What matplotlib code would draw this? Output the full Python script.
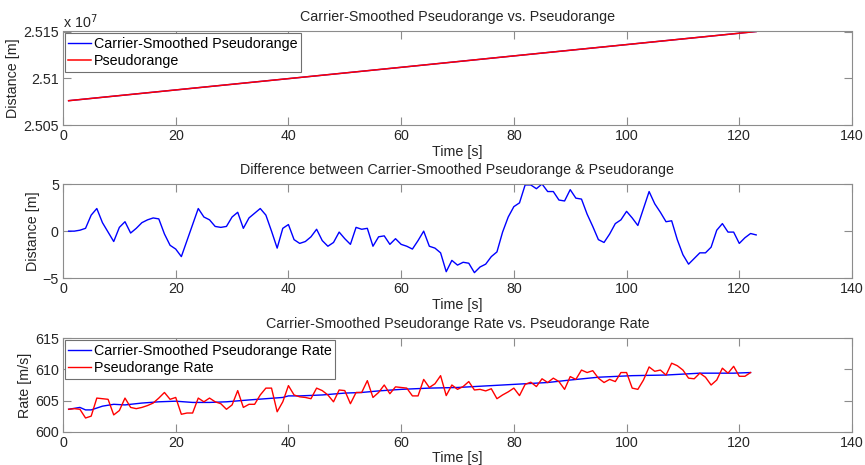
import numpy as np
import matplotlib
matplotlib.use("Agg")
import matplotlib.pyplot as plt
from matplotlib.ticker import FuncFormatter, MultipleLocator

# ---------------- data ----------------
# Top panel: pseudorange (read at a few times along the nearly straight line)
range_t = [1, 20, 40, 60, 80, 100, 123]
pseudorange = [25076000, 25087500, 25099600, 25111700, 25123900, 25136000, 25150000]
smoothed_range = [25076000, 25087500, 25099600, 25111700, 25123900, 25136000, 25150000]

# Middle panel: difference (carrier-smoothed - pseudorange), t = 1..123
diff_t = list(range(1, 124))
difference = [
    0.0, 0.0, 0.1, 0.3, 1.7, 2.4, 0.9, -0.1, -1.1, 0.4,
    1.0, -0.2, 0.3, 0.9, 1.2, 1.4, 1.3, -0.3, -1.5, -1.9,
    -2.7, -1.0, 0.7, 2.4, 1.5, 1.2, 0.5, 0.4, 0.5, 1.5,
    2.0, 0.3, 1.4, 1.9, 2.4, 1.7, 0.0, -1.8, 0.3, 0.7,
    -0.9, -1.3, -1.1, -0.6, 0.2, -1.0, -1.6, -1.2, -0.1, -0.8,
    -1.4, 0.4, 0.2, 0.3, -1.6, -0.6, -0.5, -1.4, -0.8, -1.4,
    -1.6, -1.9, -1.0, 0.0, -1.6, -1.8, -2.3, -4.3, -3.1, -3.6,
    -3.3, -3.4, -4.4, -3.8, -3.5, -2.7, -2.2, -0.1, 1.5, 2.6,
    3.0, 4.9, 4.9, 4.5, 5.0, 4.2, 4.2, 3.3, 3.2, 4.4,
    3.5, 3.4, 1.8, 0.5, -0.9, -1.2, -0.3, 0.8, 1.2, 2.1,
    1.4, 0.6, 2.4, 4.2, 2.9, 2.0, 1.0, 1.1, -0.9, -2.5,
    -3.5, -2.9, -2.3, -2.3, -1.7, 0.1, 0.8, -0.1, -0.1, -1.3,
    -0.7, -0.25, -0.4,
]

# Bottom panel: pseudorange rate, t = 1..122
rate_t = list(range(1, 123))
pseudorange_rate = [
    603.6, 603.7, 603.6, 602.2, 602.5, 605.4, 605.3, 605.2, 602.7, 603.4,
    605.4, 603.9, 603.7, 603.9, 604.2, 604.6, 605.4, 606.3, 605.2, 605.5,
    602.8, 603.0, 603.0, 605.4, 604.8, 605.4, 604.8, 604.5, 603.6, 604.3,
    606.6, 603.9, 604.4, 604.4, 605.9, 607.0, 607.0, 603.2, 604.8, 607.4,
    605.9, 605.6, 605.5, 605.3, 607.0, 606.6, 605.9, 604.8, 606.7, 606.6,
    604.5, 606.3, 606.3, 608.2, 605.5, 606.3, 607.5, 606.1, 607.2, 607.1,
    607.0, 605.75, 605.75, 608.4, 607.1, 607.7, 609.0, 605.8, 607.5, 606.8,
    607.25, 608.05, 606.7, 606.8, 606.55, 606.9, 605.3, 605.9, 606.4, 607.0,
    605.8, 607.6, 607.95, 607.25, 608.5, 607.9, 608.6, 608.05, 606.8, 608.85,
    608.4, 609.9, 609.5, 609.8, 608.6, 607.9, 608.4, 608.05, 609.5, 609.5,
    607.0, 606.8, 608.3, 610.4, 609.7, 609.9, 609.1, 611.0, 610.6, 609.9,
    608.6, 608.5, 609.4, 608.75, 607.5, 608.3, 610.2, 609.4, 610.5, 608.9,
    608.9, 609.5,
]

# Bottom panel: carrier-smoothed pseudorange rate (smooth curve, read at points)
smooth_rate_t = [1, 3, 4, 5, 7, 9, 11, 14, 17, 20, 23, 26, 29, 33, 36, 39, 40,
                 42, 46, 50, 53, 56, 60, 65, 70, 80, 86, 90, 95, 101, 107, 113,
                 119, 122]
smooth_rate = [603.6, 603.9, 603.5, 603.5, 604.1, 604.4, 604.3, 604.6, 604.8,
               604.9, 604.7, 604.7, 604.8, 605.1, 605.3, 605.5, 605.75, 605.75,
               605.9, 606.2, 606.3, 606.55, 606.8, 607.0, 607.1, 607.6, 607.9,
               608.3, 608.75, 609.0, 609.1, 609.4, 609.4, 609.5]

titles = ["Carrier-Smoothed Pseudorange vs. Pseudorange",
          "Difference between Carrier-Smoothed Pseudorange & Pseudorange",
          "Carrier-Smoothed Pseudorange Rate vs. Pseudorange Rate"]
ylabels = ["Distance [m]", "Distance [m]", "Rate [m/s]"]
xlabel = "Time [s]"

# ---------------- style ----------------
FS = 10.3
plt.rcParams['font.family'] = ['Liberation Sans', 'DejaVu Sans']
plt.rcParams['font.size'] = FS
FIG_W, FIG_H = 865, 465
fig = plt.figure(figsize=(FIG_W / 100, FIG_H / 100), dpi=100)

spine_col = '#8c8c8c'
text_col = '#262626'
left, width = 63 / FIG_W, 789 / FIG_W
boxes = [(31.5, 125.0), (184.0, 278.3), (338.3, 431.7)]
axes = []
for (top, bot) in boxes:
    ax = fig.add_axes([left, 1 - bot / FIG_H, width, (bot - top) / FIG_H])
    axes.append(ax)

for i, ax in enumerate(axes):
    for s in ax.spines.values():
        s.set_color(spine_col)
        s.set_linewidth(0.8)
    ax.tick_params(direction='in', length=5.7, width=0.8, color=spine_col,
                   labelcolor=text_col, top=True, right=True, labelsize=FS,
                   pad=3)
    ax.set_xlim(0, 140)
    ax.xaxis.set_major_locator(MultipleLocator(20))
    ax.set_title(titles[i], fontsize=FS, color=text_col, pad=7.5)
    ax.set_xlabel(xlabel, fontsize=FS, color=text_col, labelpad=1)
    ax.set_ylabel(ylabels[i], fontsize=FS, color=text_col, labelpad=2)


def style_legend(ax):
    leg = ax.legend(loc='upper left', fontsize=FS, handlelength=1.6,
                    handletextpad=0.2, borderpad=0.25, labelspacing=0.25,
                    fancybox=False, framealpha=1, borderaxespad=0.12)
    leg.get_frame().set_edgecolor('#707070')
    leg.get_frame().set_linewidth(0.8)


# top
ax = axes[0]
ax.plot(range_t, smoothed_range, color='#0000ff', lw=1.0,
        label='Carrier-Smoothed Pseudorange')
ax.plot(range_t, pseudorange, color='#ff0000', lw=1.1, label='Pseudorange')
ax.set_ylim(2.505e7, 2.515e7)
ax.set_yticks([2.505e7, 2.51e7, 2.515e7])
ax.yaxis.set_major_formatter(FuncFormatter(lambda v, p: f"{v / 1e7:g}"))
ax.text(0.0, 1.01, r'x 10$^{7}$', transform=ax.transAxes, fontsize=FS,
        color=text_col, ha='left', va='bottom')
style_legend(ax)

# middle
ax = axes[1]
ax.plot(diff_t, difference, color='#0000ff', lw=1.0)
ax.set_ylim(-5, 5)
ax.set_yticks([-5, 0, 5])

# bottom
ax = axes[2]
ax.plot(smooth_rate_t, smooth_rate, color='#0000ff', lw=1.0,
        label='Carrier-Smoothed Pseudorange Rate')
ax.plot(rate_t, pseudorange_rate, color='#ff0000', lw=1.0,
        label='Pseudorange Rate')
ax.set_ylim(600, 615)
ax.set_yticks([600, 605, 610, 615])
style_legend(ax)

fig.savefig('out.png', dpi=100)
